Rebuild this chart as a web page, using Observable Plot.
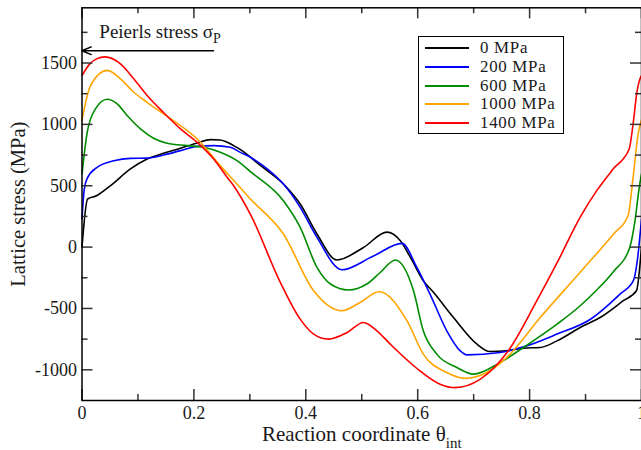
<!DOCTYPE html>
<html><head><meta charset="utf-8">
<script src="https://cdn.jsdelivr.net/npm/d3@7"></script>
<script src="https://cdn.jsdelivr.net/npm/@observablehq/plot@0.6"></script>
<style>
html,body{margin:0;padding:0;background:#fff;}
#wrap{position:relative;width:641px;height:450px;overflow:hidden;font-family:"Liberation Serif","Times New Roman",serif;}
#legend{position:absolute;left:418px;top:36px;width:146px;height:98px;box-sizing:border-box;border:1.5px solid #000;background:#fff;}
.sw{position:absolute;left:6px;width:44px;height:0;border-top:2px solid;}
.lab{position:absolute;left:61px;font-size:16.9px;letter-spacing:0.7px;line-height:16px;height:16px;white-space:nowrap;color:#1a1a1a;}
</style></head>
<body><div id="wrap"></div>
<script>
// ---- data ----
const seriesNames = ["0 MPa", "200 MPa", "600 MPa", "1000 MPa", "1400 MPa"];
const seriesColors = ["#000000", "#0000ff", "#008c00", "#ffa500", "#ff0000"];

const theta0  = [0, 0.01, 0.026, 0.051, 0.0866, 0.1164, 0.146, 0.176, 0.206, 0.2295, 0.247, 0.271, 0.288, 0.312, 0.331, 0.36, 0.39, 0.42, 0.4557, 0.503, 0.545, 0.569, 0.587, 0.61, 0.6285, 0.664, 0.706, 0.729, 0.759, 0.789, 0.819, 0.849, 0.896, 0.926, 0.9675, 0.991, 1.0];
const stress0 = [0, 392, 419, 501, 637, 718, 764, 805, 849, 876, 873, 827, 780, 691, 623, 514, 351, 107, -105, -3, 122, 52, -84, -274, -370, -574, -791, -851, -845, -823, -818, -764, -641, -574, -437, -356, 0];

const theta200  = [0, 0.004, 0.0093, 0.027, 0.057, 0.0866, 0.1164, 0.146, 0.176, 0.206, 0.2354, 0.265, 0.283, 0.301, 0.331, 0.36, 0.39, 0.42, 0.4646, 0.52, 0.572, 0.5985, 0.622, 0.652, 0.676, 0.688, 0.747, 0.789, 0.849, 0.908, 0.9616, 0.9855, 0.9925, 1.0];
const stress200 = [230, 470, 560, 650, 704, 723, 725, 751, 786, 821, 827, 813, 772, 732, 637, 514, 324, 79, -185, -75, 30, -166, -383, -682, -845, -878, -859, -813, -709, -590, -383, -274, -111, 230];

const theta600  = [0, 0.0093, 0.024, 0.045, 0.0629, 0.0807, 0.1045, 0.128, 0.152, 0.188, 0.2175, 0.247, 0.277, 0.301, 0.36, 0.39, 0.42, 0.444, 0.4765, 0.509, 0.533, 0.56, 0.5925, 0.61, 0.634, 0.67, 0.6996, 0.747, 0.789, 0.849, 0.89, 0.92, 0.9497, 0.979, 0.9884, 0.996, 1.0];
const stress600 = [596, 935, 1126, 1205, 1167, 1072, 963, 887, 846, 827, 813, 772, 704, 615, 378, 161, -166, -301, -350, -301, -207, -105, -356, -682, -872, -981, -1035, -941, -818, -628, -480, -350, -200, -3, 215, 487, 596];

const theta1000  = [0, 0.0152, 0.045, 0.0688, 0.0925, 0.1164, 0.146, 0.176, 0.206, 0.247, 0.277, 0.301, 0.36, 0.414, 0.4646, 0.497, 0.531, 0.581, 0.61, 0.652, 0.685, 0.7236, 0.759, 0.819, 0.89, 0.95, 0.976, 0.985, 0.994, 1.0];
const stress1000 = [1035, 1316, 1440, 1371, 1262, 1180, 1085, 990, 881, 664, 514, 392, 107, -356, -519, -451, -364, -601, -872, -1022, -1070, -1022, -900, -574, -207, 107, 256, 568, 922, 1035];

const theta1400  = [0, 0.014, 0.026, 0.041, 0.0688, 0.0925, 0.1164, 0.146, 0.176, 0.206, 0.2354, 0.2593, 0.271, 0.301, 0.354, 0.39, 0.414, 0.4407, 0.474, 0.503, 0.527, 0.551, 0.604, 0.64, 0.667, 0.712, 0.762, 0.813, 0.851, 0.89, 0.92, 0.95, 0.978, 0.985, 0.9914, 0.9973, 1.0];
const stress1400 = [1398, 1493, 1534, 1550, 1493, 1371, 1235, 1095, 963, 854, 718, 570, 500, 267, -283, -587, -709, -750, -696, -614, -682, -791, -1008, -1117, -1145, -1076, -845, -437, -111, 240, 460, 640, 800, 1004, 1249, 1371, 1398];

const xMajor = [0, 0.2, 0.4, 0.6, 0.8, 1];
const xMinor = [0.1, 0.3, 0.5, 0.7, 0.9];
const yMajor = [-1000, -500, 0, 500, 1000, 1500];
const yMinor = [-750, -250, 250, 750, 1250, 1750];

const peierlsStress = 1600;
const peierlsArrowFrom = 0.235;
const peierlsLabel = "Peierls stress σ";
const peierlsSub = "P";
const xTitle = "Reaction coordinate θ";
const xTitleSub = "int";
const yTitle = "Lattice stress (MPa)";

// ---- build table ----
const thetas = [theta0, theta200, theta600, theta1000, theta1400];
const stresses = [stress0, stress200, stress600, stress1000, stress1400];
const rows = [];
seriesNames.forEach((name, i) => {
  thetas[i].forEach((t, j) => rows.push({series: name, theta: t, stress: stresses[i][j]}));
});

const W = 641, H = 450, mL = 81.5, mR = 0, mT = 7.3, mB = 50;
const FW = W - mL - mR, FH = H - mT - mB;
const major = 11, minor = 6;

const svg = Plot.plot({
  width: W, height: H,
  marginLeft: mL, marginRight: mR, marginTop: mT, marginBottom: mB,
  style: {fontFamily: "Liberation Serif, Times New Roman, serif", fontSize: "18px", color: "#1a1a1a", background: "white"},
  x: {domain: [0, 1]},
  y: {domain: [-1250, 1950]},
  color: {domain: seriesNames, range: seriesColors},
  marks: [
    Plot.line(rows, {x: "theta", y: "stress", z: "series", stroke: "series", strokeWidth: 1.6, curve: "monotone-x"}),
    // inward ticks
    Plot.tickX(xMajor, {x: d => d, insetTop: FH - major, stroke: "#333", strokeWidth: 1.5}),
    Plot.tickX(xMinor, {x: d => d, insetTop: FH - minor, stroke: "#333", strokeWidth: 1.5}),
    Plot.tickX(xMajor, {x: d => d, insetBottom: FH - major, stroke: "#333", strokeWidth: 1.5}),
    Plot.tickX(xMinor, {x: d => d, insetBottom: FH - minor, stroke: "#333", strokeWidth: 1.5}),
    Plot.tickY(yMajor, {y: d => d, insetRight: FW - major, stroke: "#333", strokeWidth: 1.5}),
    Plot.tickY(yMinor, {y: d => d, insetRight: FW - minor, stroke: "#333", strokeWidth: 1.5}),
    Plot.tickY(yMajor, {y: d => d, insetLeft: FW - major, stroke: "#333", strokeWidth: 1.5}),
    Plot.tickY(yMinor, {y: d => d, insetLeft: FW - minor, stroke: "#333", strokeWidth: 1.5}),
    Plot.axisX(xMajor, {tickSize: 0, tickPadding: 6, tickFormat: d => String(d), fontSize: 18, label: null}),
    Plot.axisY(yMajor, {tickSize: 0, tickPadding: 5, tickFormat: d => String(d), fontSize: 18, label: null}),
    Plot.frame({stroke: "#000", strokeWidth: 1.5}),
    Plot.arrow([{from: peierlsArrowFrom, to: 0, y: peierlsStress}], {x1: "from", x2: "to", y1: "y", y2: "y", headLength: 10, headAngle: 45, stroke: "#000", strokeWidth: 1.5}),
    Plot.text([{t: 0.031, v: 1757}], {x: "t", y: "v", text: () => peierlsLabel, textAnchor: "start", lineAnchor: "middle", fontSize: 19, fill: "#1a1a1a"}),
    Plot.text([yTitle], {frameAnchor: "left", text: d => d, rotate: -90, dx: -63.5, lineAnchor: "middle", textAnchor: "middle", fontSize: 20.5, fill: "#1a1a1a"}),
    Plot.text([xTitle], {frameAnchor: "bottom", text: d => d, dy: 33.6, lineAnchor: "middle", textAnchor: "middle", fontSize: 21, fill: "#1a1a1a"})
  ]
});

// subscripts
d3.select(svg).selectAll("text").filter(function() { return this.textContent === peierlsLabel; })
  .append("tspan").attr("dy", 5).attr("font-size", 14).text(peierlsSub);
d3.select(svg).selectAll("text").filter(function() { return this.textContent === xTitle; })
  .append("tspan").attr("dy", 7).attr("font-size", 15).text(xTitleSub);

const wrap = document.getElementById("wrap");
wrap.appendChild(svg);

// legend
const legend = document.createElement("div");
legend.id = "legend";
seriesNames.forEach((name, i) => {
  const top = 10.2 + i * 18.75;
  const sw = document.createElement("div");
  sw.className = "sw";
  sw.style.top = (top) + "px";
  sw.style.borderTopColor = seriesColors[i];
  const lab = document.createElement("div");
  lab.className = "lab";
  lab.style.top = (top - 7) + "px";
  lab.textContent = name;
  legend.appendChild(sw);
  legend.appendChild(lab);
});
wrap.appendChild(legend);
</script>
</body></html>
